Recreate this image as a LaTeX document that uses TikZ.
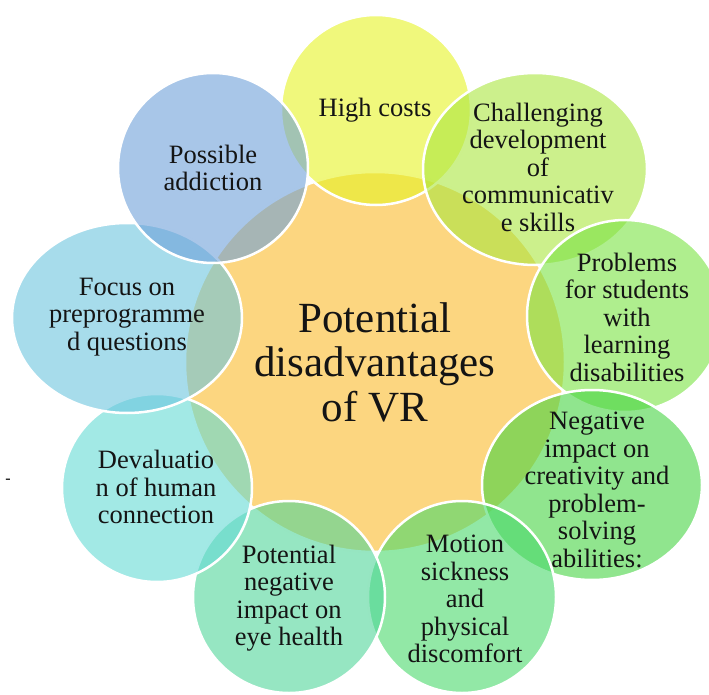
\documentclass[tikz,border=0pt]{standalone}
\usepackage{fontspec}
\setmainfont{Liberation Serif}
\usetikzlibrary{shapes.geometric}

% fills (drawn at 60% opacity over white / over the hub)
\definecolor{hubfill}{RGB}{252,214,128}
\definecolor{cYellow}{RGB}{230,243,37}
\definecolor{cLime}{RGB}{170,230,63}
\definecolor{cGreenA}{RGB}{122,227,67}
\definecolor{cGreenB}{RGB}{70,212,66}
\definecolor{cMint}{RGB}{73,217,107}
\definecolor{cTeal}{RGB}{80,213,153}
\definecolor{cCyan}{RGB}{100,218,212}
\definecolor{cSky}{RGB}{108,197,222}
\definecolor{cBlue}{RGB}{110,160,217}
\definecolor{textcol}{RGB}{20,20,20}

\tikzset{
  bubble/.style={ellipse, draw=white, line width=2.5pt, fill=#1,
    fill opacity=0.6, draw opacity=1, inner sep=0pt},
  hub/.style={circle, draw=white, line width=2.5pt, fill=hubfill,
    minimum size=380pt, inner sep=0pt},
  itemtext/.style={align=center, text=textcol, inner sep=0pt,
    font=\fontsize{26.5}{27.5}\selectfont},
  hubtext/.style={align=center, text=textcol, inner sep=0pt,
    font=\fontsize{43}{44.5}\selectfont},
}

\begin{document}
\begin{tikzpicture}[x=1pt,y=-1pt]
\useasboundingbox (0,0) rectangle (709,695);
\clip (0,0) rectangle (709,695);

% central hub
\node[hub] (hub) at (375,362) {};
\node[hubtext] (hubt) at (375,362) {Potential\\disadvantages\\of VR};

% surrounding items, clockwise from the top; each one overlaps the previous
\node[bubble=cYellow, minimum width=190pt, minimum height=190pt] (b1) at (376,110) {};
\node[itemtext] (t1) at (375,110) {High costs};

\node[bubble=cLime, minimum width=224pt, minimum height=192pt] (b2) at (535,169) {};
\node[itemtext] (t2) at (538,167) {Challenging\\development\\of\\communicativ\\e skills};

\node[bubble=cGreenA, minimum width=196pt, minimum height=192pt] (b3) at (625,316) {};
\node[itemtext] (t3) at (627,317) {Problems\\for students\\with\\learning\\disabilities};

\node[bubble=cGreenB, minimum width=220pt, minimum height=190pt] (b4) at (592,485) {};
\node[itemtext] (t4) at (597,490) {Negative\\impact on\\creativity and\\problem-\\solving\\abilities:};

\node[bubble=cMint, minimum width=188pt, minimum height=192pt] (b5) at (462,597) {};
\node[itemtext] (t5) at (465,599) {Motion\\sickness\\and\\physical\\discomfort};

\node[bubble=cTeal, minimum width=192pt, minimum height=192pt] (b6) at (289,597) {};
\node[itemtext] (t6) at (289,598) {Potential\\negative\\impact on\\eye health};

\node[bubble=cCyan, minimum width=190pt, minimum height=188pt] (b7) at (157,488) {};
\node[itemtext] (t7) at (156,487) {Devaluatio\\n of human\\connection};

\node[bubble=cSky, minimum width=230pt, minimum height=190pt] (b8) at (127,318) {};
\node[itemtext] (t8) at (127,317) {Focus on\\preprogramme\\d questions};

\node[bubble=cBlue, minimum width=190pt, minimum height=190pt] (b9) at (213,168) {};
\node[itemtext] (t9) at (213,168) {Possible\\addiction};

% stray mark at the left margin
\node[text=black, inner sep=0pt, font=\fontsize{16}{16}\selectfont] (dash) at (8,481) {-};
\end{tikzpicture}
\end{document}
